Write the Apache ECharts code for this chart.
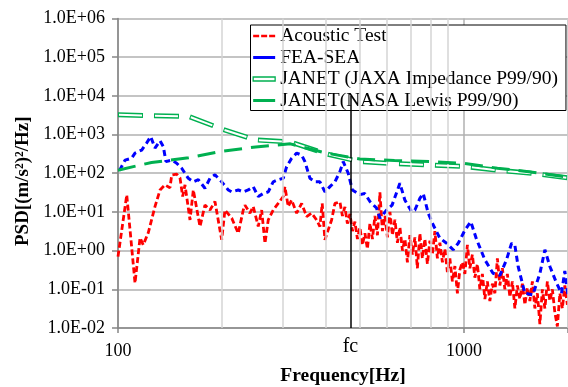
<!DOCTYPE html>
<html><head><meta charset="utf-8">
<script src="https://cdn.jsdelivr.net/npm/echarts@6/dist/echarts.min.js"></script>
<style>html,body{margin:0;padding:0;background:#fff}#c{width:568px;height:387px}</style>
</head><body><div id="c"></div>
<script>
// ---- data (frequency [Hz], PSD [(m/s^2)^2/Hz]) ----
const acousticTest = [[100,0.70],[106,27.5],[112,0.145],[115.8,2.14],[118.3,1.41],[122.3,2.88],[127.9,13.7],[132.3,37],[136.7,50],[141.3,42],[143,90],[147.8,95],[151.1,76],[153.8,25],[156.2,50],[161.5,6.2],[165.1,37],[172.6,4.2],[178.4,15],[184.5,11.2],[190.7,18.6],[199.4,1.9],[203.8,11.2],[213.2,6.9],[222.7,2.8],[230.2,11.2],[232.8,15],[240.7,9.3],[246,13.8],[254.4,4.2],[260.2,11.2],[266,1.55],[271.9,6.2],[281,11.2],[290.5,16.6],[300.4,25],[303.8,45],[310.5,13.8],[317.7,20.4],[328.5,9.3],[339.6,16.6],[351.1,7.6],[362.9,9.3],[375.2,6.2],[383.5,4.2],[389.4,16.6],[396.5,1.9],[403.7,3.1],[414.6,6.2],[423.8,16.6],
[438.1,18.2],[445.5,7.9],[452.9,13.5],[460.5,5.0],[468.3,8.9],[476.1,3.2],[484.1,5.6],[492.3,2.0],[500.5,4.0],[508.9,1.4],[517.5,2.8],[526.1,1.1],[535,5.1],[544,2.0],[553.1,7.9],[562.4,2.5],[571.8,32],[581.4,3.2],[591.2,7.9],[601.1,2.2],[611.2,10],[621.5,2.5],[631.9,6.3],[642.5,1.6],[653.3,4.0],[664.3,1.0],
[675.4,2.0],[686.6,0.5],[698.1,2.5],[709.8,0.79],[721.7,2.2],[733.8,0.35],[746.1,2.8],[758.7,0.63],[771.4,2.0],[784.3,0.45],[797.5,1.8],[810.9,0.79],[824.5,3.2],[838.3,0.63],[852.4,1.6],[866.7,0.5],[881.2,1.1],[896,0.28],[911,0.63],[926.3,0.16],[941.9,0.4],[957.7,0.079],[973.7,0.32],[990.1,0.5],[1006.7,0.25],[1023.6,1.4],[1040.7,0.35],[1058.2,0.79],[1076,0.2],[1094,0.45],[1112.4,0.1],[1131,0.25],[1150,0.056],[1169.3,0.16],[1188.9,0.05],[1208.9,0.14],[1229.2,0.079],[1249.8,0.63],[1270.8,0.126],[1292.1,0.35],[1313.8,0.1],[1335.8,0.25],[1358.2,0.063],[1381,0.16],[1404.2,0.032],[1427.8,0.126],[1451.7,0.056],[1476.1,0.14],[1500.9,0.04],[1526.1,0.11],[1551.7,0.05],[1577.7,0.16],[1604.2,0.032],[1631.1,0.079],[1658.5,0.0126],[1686.3,0.1],[1714.6,0.032],[1743.4,0.16],[1772.6,0.05],[1802.4,0.1],[1832.6,0.025],[1863.4,0.011],[1894.6,0.079],[1926.4,0.032],[1958.7,0.126],[1991.6,0.04]];
const feaSea = [[101,117],[104.8,219],[109.5,245],[112,331],[117.1,398],[121,603],[124.3,891],[127.9,447],[132.3,692],[135.2,490],[137.6,200],[143,219],[147.8,182],[152.8,135],[159.7,74],[165.1,60],[170.7,68],[178.4,41],[184.5,74],[190.7,91],[199.4,60],[208.4,37],[213.2,33],[222.7,37],[230.2,33],[238,37],[246,45],[254.4,25],[263,30],[271.9,33],[281,60],[290.5,68],[300.4,74],[307.3,148],[317.7,245],[328.5,331],[339.6,295],[347.1,200],[358.9,74],[371,60],[383.5,60],[396.5,33],[410,45],[423.8,60],[438.1,110],[447.9,200],[463,100],[476,37],[500.5,28],[517,30],[535,18.6],[559,12.6],[572,6.9],[598,11.2],[620,15],[640,33],[653,55],[675,20.4],[706,10.2],[721.9,11.2],[746,22.4],[763,30],[788.6,9.3],[815.4,4.6],[852.2,2.1],[891.3,1.55],[931,1.05],[963,1.55],[1007,3.4],[1047,5.6],[1087,2.0],[1150,0.58],[1214,0.26],[1271,0.23],[1328,0.58],[1374,1.55],[1404,1.38],[1435,0.39],[1501,0.079],[1583,0.072],[1659,0.26],[1715,1.05],[1773,0.39],[1853,0.145],[1916,0.079],[1958,0.3],[2000,0.07]];
const janetJaxa = [[100,3240],[125,3090],[160,2950],[200,1380],[250,724],[315,646],[400,316],[500,200],[630,178],[800,162],[1000,150],[1250,120],[1600,98],[2000,76]];
const janetNasa = [[100,120],[125,190],[160,251],[200,372],[250,479],[315,575],[400,331],[500,234],[630,214],[800,200],[1000,180],[1250,135],[1600,105],[2000,79]];
const minorGridFreqs = [200,300,400,500,600,700,800,900,2000];
const fcFreq = 470;
const fcLineRange = [0.01, 10000];
const yTickLabels = ['1.0E-02','1.0E-01','1.0E+00','1.0E+01','1.0E+02','1.0E+03','1.0E+04','1.0E+05','1.0E+06'];
const xTickLabels = {100:'100', 1000:'1000'};
const seriesNames = ['Acoustic Test','FEA-SEA','JANET (JAXA Impedance P99/90)','JANET(NASA Lewis P99/90)'];

const FONT = '"Liberation Serif","Times New Roman",serif';
const GREEN = '#00b050';
const chart = echarts.init(document.getElementById('c'), null, {renderer:'canvas'});
chart.setOption({
  animation:false,
  grid:{left:118,right:0,top:18.5,bottom:59,containLabel:false,outerBoundsMode:'none'},
  xAxis:{
    type:'log', logBase:10, min:100, max:2000,
    name:'Frequency[Hz]', nameLocation:'middle', nameGap:38,
    nameTextStyle:{fontFamily:FONT,fontSize:19.5,fontWeight:'bold',color:'#000'},
    axisLine:{lineStyle:{color:'#868686',width:1.5}},
    axisTick:{show:true,length:5,lineStyle:{color:'#868686',width:1.5}},
    axisLabel:{fontFamily:FONT,fontSize:18,color:'#000',margin:14,
      formatter:v=>xTickLabels[Math.round(v)]||''},
    splitLine:{show:true,lineStyle:{color:'#b0b0b0',width:1.5}},
    minorTick:{show:false}, minorSplitLine:{show:false}
  },
  yAxis:{
    type:'log', logBase:10, min:0.01, max:1e6, splitNumber:8,
    name:'PSD[(m/s²)²/Hz]', nameLocation:'middle', nameGap:78, nameRotate:90,
    nameTextStyle:{fontFamily:FONT,fontSize:19,fontWeight:'bold',color:'#000',padding:[0,16,0,0]},
    axisLine:{show:true,lineStyle:{color:'#868686',width:1.5}},
    axisTick:{show:true,length:6,lineStyle:{color:'#868686',width:1.5}},
    axisLabel:{fontFamily:FONT,fontSize:18,color:'#000',margin:13,
      formatter:v=>yTickLabels[Math.round(Math.log10(v))+2]||''},
    splitLine:{show:true,lineStyle:{color:'#b0b0b0',width:1.5}}
  },
  legend:{
    orient:'vertical', left:250.5, top:25, itemWidth:22, itemHeight:14, itemGap:1.5,
    padding:[1,8,0,2], backgroundColor:'#fff', borderColor:'#000', borderWidth:1, borderRadius:0,
    textStyle:{fontFamily:FONT,fontSize:19.5,color:'#000'},
    data:[
      {name:seriesNames[0], icon:'path://M0,0H6V2.5H0Z M8,0H14V2.5H8Z M16,0H22V2.5H16Z', itemStyle:{color:'#ff0000',borderWidth:0}},
      {name:seriesNames[1], icon:'path://M0,0H22V3H0Z', itemStyle:{color:'#0000ff',borderWidth:0}},
      {name:seriesNames[2], icon:'path://M0,0H22V4H0Z', itemStyle:{color:'#fff',borderColor:GREEN,borderWidth:1.3}},
      {name:seriesNames[3], icon:'path://M0,0H22V3H0Z', itemStyle:{color:GREEN,borderWidth:0}}
    ]
  },
  series:[
    {type:'line', name:'_grid', data:[], silent:true, z:1, symbol:'none',
     markLine:{silent:true, symbol:'none', label:{show:false}, animation:false,
       lineStyle:{color:'#d4d4d4',width:1.5,type:'solid'},
       data:minorGridFreqs.map(f=>({xAxis:f}))}},
    {type:'line', name:seriesNames[0], data:acousticTest, symbol:'none', z:2,
     lineStyle:{color:'#ff0000',width:2.8,type:[6,3]}, itemStyle:{color:'#ff0000'}},
    {type:'line', name:seriesNames[1], data:feaSea, symbol:'none', z:3,
     lineStyle:{color:'#0000ff',width:3,type:[6,4]}, itemStyle:{color:'#0000ff'}},
    {type:'line', name:seriesNames[2], data:janetJaxa, symbol:'none', z:4,
     lineStyle:{color:GREEN,width:5,type:[25,11]}, itemStyle:{color:GREEN}},
    {type:'line', name:'_jaxaInner', data:janetJaxa, symbol:'none', z:5,
     lineStyle:{color:'#fff',width:2,type:[23,13],dashOffset:-1}, itemStyle:{color:'#fff'}},
    {type:'line', name:seriesNames[3], data:janetNasa, symbol:'none', z:6,
     lineStyle:{color:GREEN,width:3,type:[18,9]}, itemStyle:{color:GREEN}},
    {type:'line', name:'_fc', data:[], silent:true, z:7, symbol:'none',
     markLine:{silent:true, symbol:'none', animation:false,
       lineStyle:{color:'#000',width:1.5,type:'solid'},
       label:{show:true,position:'start',formatter:'fc',distance:9,fontFamily:FONT,fontSize:20,color:'#000'},
       data:[[{coord:[fcFreq,fcLineRange[0]]},{coord:[fcFreq,fcLineRange[1]]}]]}}
  ]
});
</script></body></html>
